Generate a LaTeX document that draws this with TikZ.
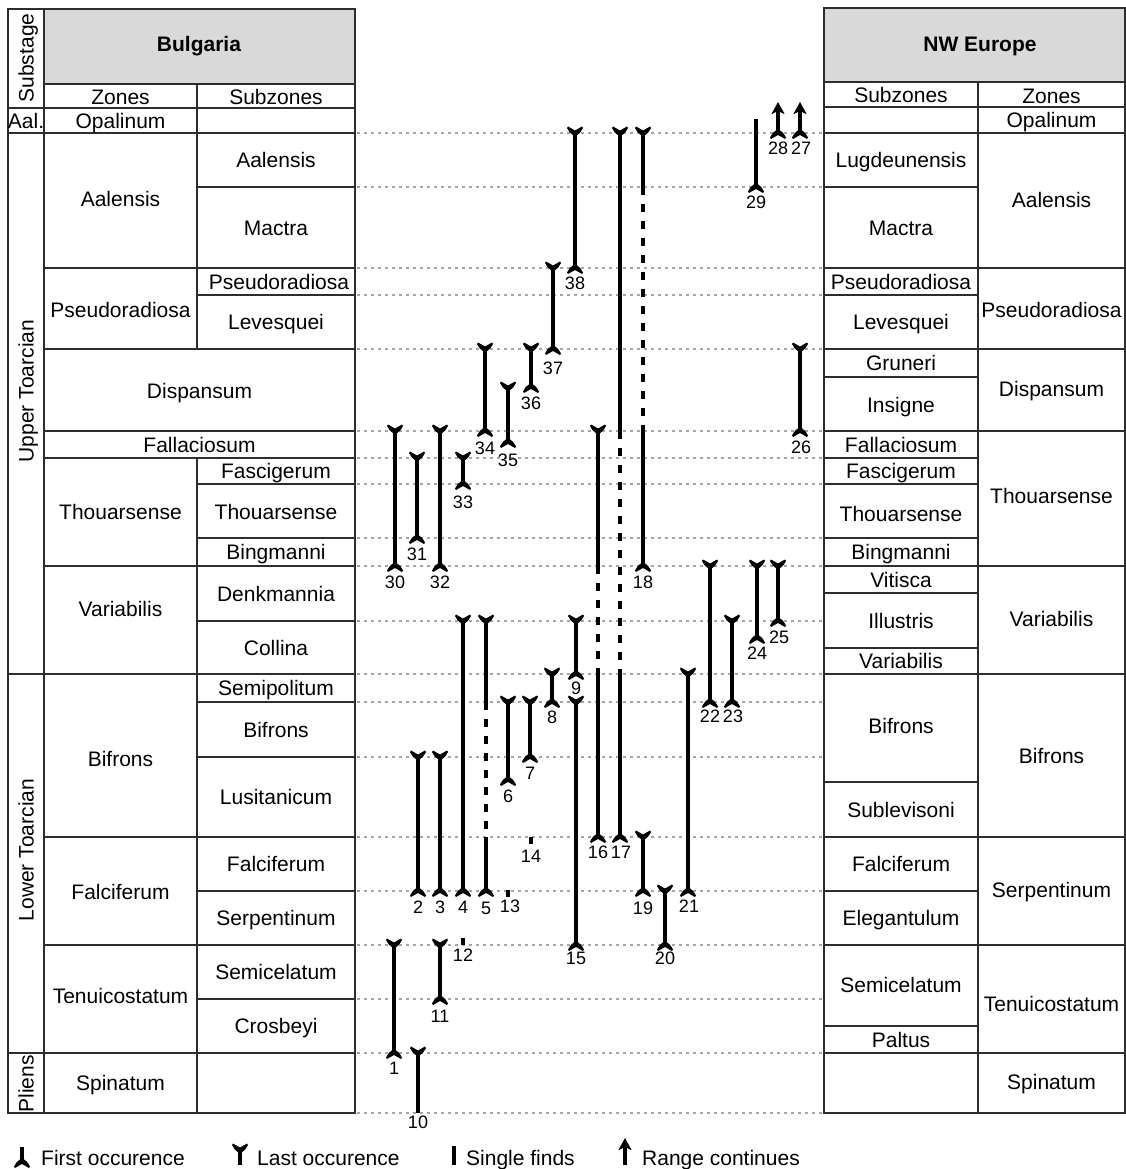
\documentclass[tikz,border=0pt]{standalone}
\usepackage{fontspec}
\setmainfont{Liberation Sans}
\usepackage{tikz}
\usetikzlibrary{arrows.meta}
\definecolor{headgray}{RGB}{217,217,217}
\definecolor{guidegray}{RGB}{165,165,165}
\definecolor{linegray}{RGB}{45,45,45}

\begin{document}
\begin{tikzpicture}[
        x=1pt, y=-1pt,
        tablerule/.style={draw=linegray, line width=1.2pt},
        guide/.style={guidegray, line width=1.1pt, dash pattern=on 2.5pt off 4.5pt},
        cell/.style={inner sep=0pt, text height=15pt, text depth=0pt, font=\fontsize{21}{24}\selectfont},
        head/.style={cell, font=\fontsize{21}{24}\selectfont\bfseries},
        side/.style={cell, rotate=90},
        num/.style={inner sep=0pt, text height=13pt, text depth=0pt, font=\fontsize{18}{20}\selectfont},
        rangebar/.style={line width=3.2pt},
        goeson/.style={rangebar, -{Stealth[length=12pt, width=13pt, inset=3pt]}},
        broken/.style={dash pattern=on 8pt off 9pt},
        singlebar/.style={line width=3.2pt},
        legendtext/.style={anchor=base west, inner sep=0pt, font=\fontsize{21}{24}\selectfont},
        lastocc/.pic={\fill (-8,-5) .. controls (-5,0) .. (-1.6,2.5) -- (1.6,2.5) .. controls (5,0) .. (8,-5)
            -- (7,-6.5) .. controls (3,-4.5) .. (0,-2.5) .. controls (-3,-4.5) .. (-7,-6.5) -- cycle;},
        firstocc/.pic={\fill (-8,4.5) .. controls (-5,-0.5) .. (-1.6,-3) -- (1.6,-3) .. controls (5,-0.5) .. (8,4.5)
            -- (7,6) .. controls (3,4) .. (0,2) .. controls (-3,4) .. (-7,6) -- cycle;}
    ]
        \useasboundingbox (0,0) rectangle (1126,1169);

        % Guide lines between the tables
        \foreach \y in {133,187,268,295,349,431,458,484,538,566,621,674,702,757,837,891,945,999,1053,1113}
            \draw[guide] (357,\y) -- (822,\y);

        % Bulgaria table
        \fill[headgray] (44,9) rectangle (355,84);
        \draw[tablerule] (8,9) rectangle (355,1113);
        \draw[tablerule] (44,9) -- (44,1113);
        \draw[tablerule] (197,84) -- (197,349) (197,458) -- (197,1113);
        \foreach \y in {108,133,674,1053} \draw[tablerule] (8,\y) -- (355,\y);
        \foreach \y in {84,268,349,431,458,566,837,945} \draw[tablerule] (44,\y) -- (355,\y);
        \foreach \y in {187,295,484,538,621,702,757,891,999} \draw[tablerule] (197,\y) -- (355,\y);

        \node[side] (substage) at (26,58) {Substage};
        \node[cell] (aal) at (26,121) {Aal.};
        \node[side] (upper) at (26,391) {Upper Toarcian};
        \node[side] (lower) at (26,850) {Lower Toarcian};
        \node[side] (pliens) at (26,1084) {Pliens};

        \node[head] (bulgaria) at (199,44) {Bulgaria};
        \node[cell] (bg-zones) at (120.5,97) {Zones};
        \node[cell] (bg-subzones) at (276,97) {Subzones};
        \node[cell] (bg-opalinum) at (120.5,121) {Opalinum};
        \node[cell] (bg-aalensis) at (120.5,199) {Aalensis};
        \node[cell] (bg-aalensis-s) at (276,160) {Aalensis};
        \node[cell] (bg-mactra) at (276,228) {Mactra};
        \node[cell] (bg-pseudo) at (120.5,310) {Pseudoradiosa};
        \node[cell] (bg-pseudo-s) at (279,282) {Pseudoradiosa};
        \node[cell] (bg-levesquei) at (276,322) {Levesquei};
        \node[cell] (bg-dispansum) at (199.5,391) {Dispansum};
        \node[cell] (bg-fallaciosum) at (199.5,444.5) {Fallaciosum};
        \node[cell] (bg-thouarsense) at (120.5,512) {Thouarsense};
        \node[cell] (bg-fascigerum) at (276,471) {Fascigerum};
        \node[cell] (bg-thouarsense-s) at (276,512) {Thouarsense};
        \node[cell] (bg-bingmanni) at (276,552) {Bingmanni};
        \node[cell] (bg-variabilis) at (120.5,609) {Variabilis};
        \node[cell] (bg-denkmannia) at (276,594) {Denkmannia};
        \node[cell] (bg-collina) at (276,648) {Collina};
        \node[cell] (bg-bifrons) at (120.5,759) {Bifrons};
        \node[cell] (bg-semipolitum) at (276,688) {Semipolitum};
        \node[cell] (bg-bifrons-s) at (276,730) {Bifrons};
        \node[cell] (bg-lusitanicum) at (276,797) {Lusitanicum};
        \node[cell] (bg-falciferum) at (120.5,892) {Falciferum};
        \node[cell] (bg-falciferum-s) at (276,864) {Falciferum};
        \node[cell] (bg-serpentinum) at (276,918) {Serpentinum};
        \node[cell] (bg-tenuicostatum) at (120.5,996) {Tenuicostatum};
        \node[cell] (bg-semicelatum) at (276,972) {Semicelatum};
        \node[cell] (bg-crosbeyi) at (276,1026) {Crosbeyi};
        \node[cell] (bg-spinatum) at (120.5,1083) {Spinatum};

        % NW Europe table
        \fill[headgray] (824,8) rectangle (1125,82);
        \draw[tablerule] (824,8) rectangle (1125,1113);
        \draw[tablerule] (978,82) -- (978,1113);
        \foreach \y in {82,107,133,268,349,431,566,674,837,945,1053} \draw[tablerule] (824,\y) -- (1125,\y);
        \foreach \y in {187,295,377,458,484,538,593,648,782,891,1026} \draw[tablerule] (824,\y) -- (978,\y);

        \node[head] (nweurope) at (980,44) {NW Europe};
        \node[cell] (nw-subzones) at (901,95) {Subzones};
        \node[cell] (nw-zones) at (1051.5,96) {Zones};
        \node[cell] (nw-opalinum) at (1051.5,120) {Opalinum};
        \node[cell] (nw-lugdeunensis) at (901,160) {Lugdeunensis};
        \node[cell] (nw-mactra) at (901,228) {Mactra};
        \node[cell] (nw-aalensis) at (1051.5,200) {Aalensis};
        \node[cell] (nw-pseudo-s) at (901,282) {Pseudoradiosa};
        \node[cell] (nw-levesquei) at (901,322) {Levesquei};
        \node[cell] (nw-pseudo) at (1051.5,310) {Pseudoradiosa};
        \node[cell] (nw-gruneri) at (901,363) {Gruneri};
        \node[cell] (nw-insigne) at (901,405) {Insigne};
        \node[cell] (nw-dispansum) at (1051.5,389) {Dispansum};
        \node[cell] (nw-fallaciosum) at (901,444.5) {Fallaciosum};
        \node[cell] (nw-fascigerum) at (901,471) {Fascigerum};
        \node[cell] (nw-thouarsense-s) at (901,514) {Thouarsense};
        \node[cell] (nw-bingmanni) at (901,552) {Bingmanni};
        \node[cell] (nw-thouarsense) at (1051.5,496) {Thouarsense};
        \node[cell] (nw-vitisca) at (901,580) {Vitisca};
        \node[cell] (nw-illustris) at (901,621) {Illustris};
        \node[cell] (nw-variabilis-s) at (901,661) {Variabilis};
        \node[cell] (nw-variabilis) at (1051.5,619) {Variabilis};
        \node[cell] (nw-bifrons-s) at (901,726) {Bifrons};
        \node[cell] (nw-sublevisoni) at (901,809.5) {Sublevisoni};
        \node[cell] (nw-bifrons) at (1051.5,756) {Bifrons};
        \node[cell] (nw-falciferum) at (901,864) {Falciferum};
        \node[cell] (nw-elegantulum) at (901,918) {Elegantulum};
        \node[cell] (nw-serpentinum) at (1051.5,890) {Serpentinum};
        \node[cell] (nw-semicelatum) at (901,985) {Semicelatum};
        \node[cell] (nw-paltus) at (901,1040) {Paltus};
        \node[cell] (nw-tenuicostatum) at (1051.5,1004) {Tenuicostatum};
        \node[cell] (nw-spinatum) at (1051.5,1082) {Spinatum};

        % Ranges
        \draw[rangebar] (394,945) -- (394,1053); \pic at (394,945) {lastocc}; \pic at (394,1053) {firstocc};
        \node[num] (r1) at (394,1068) {1};
        \draw[rangebar] (418,757) -- (418,891); \pic at (418,757) {lastocc}; \pic at (418,891) {firstocc};
        \node[num] (r2) at (418,907) {2};
        \draw[rangebar] (440,757) -- (440,891); \pic at (440,757) {lastocc}; \pic at (440,891) {firstocc};
        \node[num] (r3) at (440,907) {3};
        \draw[rangebar] (463,621) -- (463,891); \pic at (463,621) {lastocc}; \pic at (463,891) {firstocc};
        \node[num] (r4) at (463,907) {4};
        \draw[rangebar] (486,621) -- (486,702) (486,837) -- (486,891); \draw[rangebar, broken] (486,702) -- (486,837);
        \pic at (486,621) {lastocc}; \pic at (486,891) {firstocc};
        \node[num] (r5) at (486,908) {5};
        \draw[rangebar] (508,702) -- (508,780); \pic at (508,702) {lastocc}; \pic at (508,780) {firstocc};
        \node[num] (r6) at (508,796) {6};
        \draw[rangebar] (530,702) -- (530,757); \pic at (530,702) {lastocc}; \pic at (530,757) {firstocc};
        \node[num] (r7) at (530,773) {7};
        \draw[rangebar] (552,674) -- (552,702); \pic at (552,674) {lastocc}; \pic at (552,702) {firstocc};
        \node[num] (r8) at (552,717) {8};
        \draw[rangebar] (576,621) -- (576,674); \pic at (576,621) {lastocc}; \pic at (576,674) {firstocc};
        \node[num] (r9) at (576,688) {9};
        \draw[rangebar] (418,1053) -- (418,1113); \pic at (418,1053) {lastocc};
        \node[num] (r10) at (418,1122) {10};
        \draw[rangebar] (440,945) -- (440,999); \pic at (440,945) {lastocc}; \pic at (440,999) {firstocc};
        \node[num] (r11) at (440,1016) {11};
        \draw[singlebar] (463,938) -- (463,945);
        \node[num] (r12) at (463,955) {12};
        \draw[singlebar] (508,890) -- (508,897);
        \node[num] (r13) at (510,906) {13};
        \draw[singlebar] (531,837) -- (531,844);
        \node[num] (r14) at (531,856) {14};
        \draw[rangebar] (576,702) -- (576,945); \pic at (576,702) {lastocc}; \pic at (576,945) {firstocc};
        \node[num] (r15) at (576,958) {15};
        \draw[rangebar] (598,431) -- (598,566) (598,674) -- (598,837); \draw[rangebar, broken] (598,566) -- (598,674);
        \pic at (598,431) {lastocc}; \pic at (598,837) {firstocc};
        \node[num] (r16) at (598,852) {16};
        \draw[rangebar] (620,133) -- (620,431) (620,674) -- (620,837); \draw[rangebar, broken] (620,431) -- (620,674);
        \pic at (620,133) {lastocc}; \pic at (620,837) {firstocc};
        \node[num] (r17) at (621,852) {17};
        \draw[rangebar] (643,133) -- (643,187) (643,431) -- (643,566); \draw[rangebar, broken] (643,187) -- (643,431);
        \pic at (643,133) {lastocc}; \pic at (643,566) {firstocc};
        \node[num] (r18) at (643,582) {18};
        \draw[rangebar] (643,837) -- (643,891); \pic at (643,837) {lastocc}; \pic at (643,891) {firstocc};
        \node[num] (r19) at (643,908) {19};
        \draw[rangebar] (665,891) -- (665,945); \pic at (665,891) {lastocc}; \pic at (665,945) {firstocc};
        \node[num] (r20) at (665,958) {20};
        \draw[rangebar] (688,674) -- (688,891); \pic at (688,674) {lastocc}; \pic at (688,891) {firstocc};
        \node[num] (r21) at (689,906) {21};
        \draw[rangebar] (710,566) -- (710,702); \pic at (710,566) {lastocc}; \pic at (710,702) {firstocc};
        \node[num] (r22) at (710,716) {22};
        \draw[rangebar] (732,621) -- (732,702); \pic at (732,621) {lastocc}; \pic at (732,702) {firstocc};
        \node[num] (r23) at (733,716) {23};
        \draw[rangebar] (757,566) -- (757,638); \pic at (757,566) {lastocc}; \pic at (757,638) {firstocc};
        \node[num] (r24) at (757,653) {24};
        \draw[rangebar] (778,566) -- (778,621); \pic at (778,566) {lastocc}; \pic at (778,621) {firstocc};
        \node[num] (r25) at (779,637) {25};
        \draw[rangebar] (800,349) -- (800,431); \pic at (800,349) {lastocc}; \pic at (800,431) {firstocc};
        \node[num] (r26) at (801,447) {26};
        \draw[goeson] (800,133) -- (800,102); \pic at (800,133) {firstocc};
        \node[num] (r27) at (801,148) {27};
        \draw[goeson] (778,133) -- (778,102); \pic at (778,133) {firstocc};
        \node[num] (r28) at (778,148) {28};
        \draw[rangebar] (756,119) -- (756,187); \pic at (756,187) {firstocc};
        \node[num] (r29) at (756,202) {29};
        \draw[rangebar] (395,431) -- (395,566); \pic at (395,431) {lastocc}; \pic at (395,566) {firstocc};
        \node[num] (r30) at (395,582) {30};
        \draw[rangebar] (417,458) -- (417,538); \pic at (417,458) {lastocc}; \pic at (417,538) {firstocc};
        \node[num] (r31) at (417,554) {31};
        \draw[rangebar] (440,431) -- (440,566); \pic at (440,431) {lastocc}; \pic at (440,566) {firstocc};
        \node[num] (r32) at (440,582) {32};
        \draw[rangebar] (463,458) -- (463,484); \pic at (463,458) {lastocc}; \pic at (463,484) {firstocc};
        \node[num] (r33) at (463,502) {33};
        \draw[rangebar] (485,349) -- (485,431); \pic at (485,349) {lastocc}; \pic at (485,431) {firstocc};
        \node[num] (r34) at (485,448) {34};
        \draw[rangebar] (508,388) -- (508,442); \pic at (508,388) {lastocc}; \pic at (508,442) {firstocc};
        \node[num] (r35) at (508,460) {35};
        \draw[rangebar] (531,349) -- (531,387); \pic at (531,349) {lastocc}; \pic at (531,387) {firstocc};
        \node[num] (r36) at (531,403) {36};
        \draw[rangebar] (553,268) -- (553,349); \pic at (553,268) {lastocc}; \pic at (553,349) {firstocc};
        \node[num] (r37) at (553,368) {37};
        \draw[rangebar] (575,133) -- (575,268); \pic at (575,133) {lastocc}; \pic at (575,268) {firstocc};
        \node[num] (r38) at (575,283) {38};

        % Legend
        \draw[rangebar] (22,1147) -- (22,1162); \pic at (22,1162) {firstocc};
        \node[legendtext] (leg-first) at (41,1165) {First occurence};
        \draw[rangebar] (240,1150) -- (240,1165); \pic at (240,1150) {lastocc};
        \node[legendtext] (leg-last) at (257,1165) {Last occurence};
        \draw[singlebar] (454,1146) -- (454,1165);
        \node[legendtext] (leg-single) at (466,1165) {Single finds};
        \draw[goeson] (625,1165) -- (625,1138);
        \node[legendtext] (leg-range) at (642,1165) {Range continues};

    \end{tikzpicture}
\end{document}
